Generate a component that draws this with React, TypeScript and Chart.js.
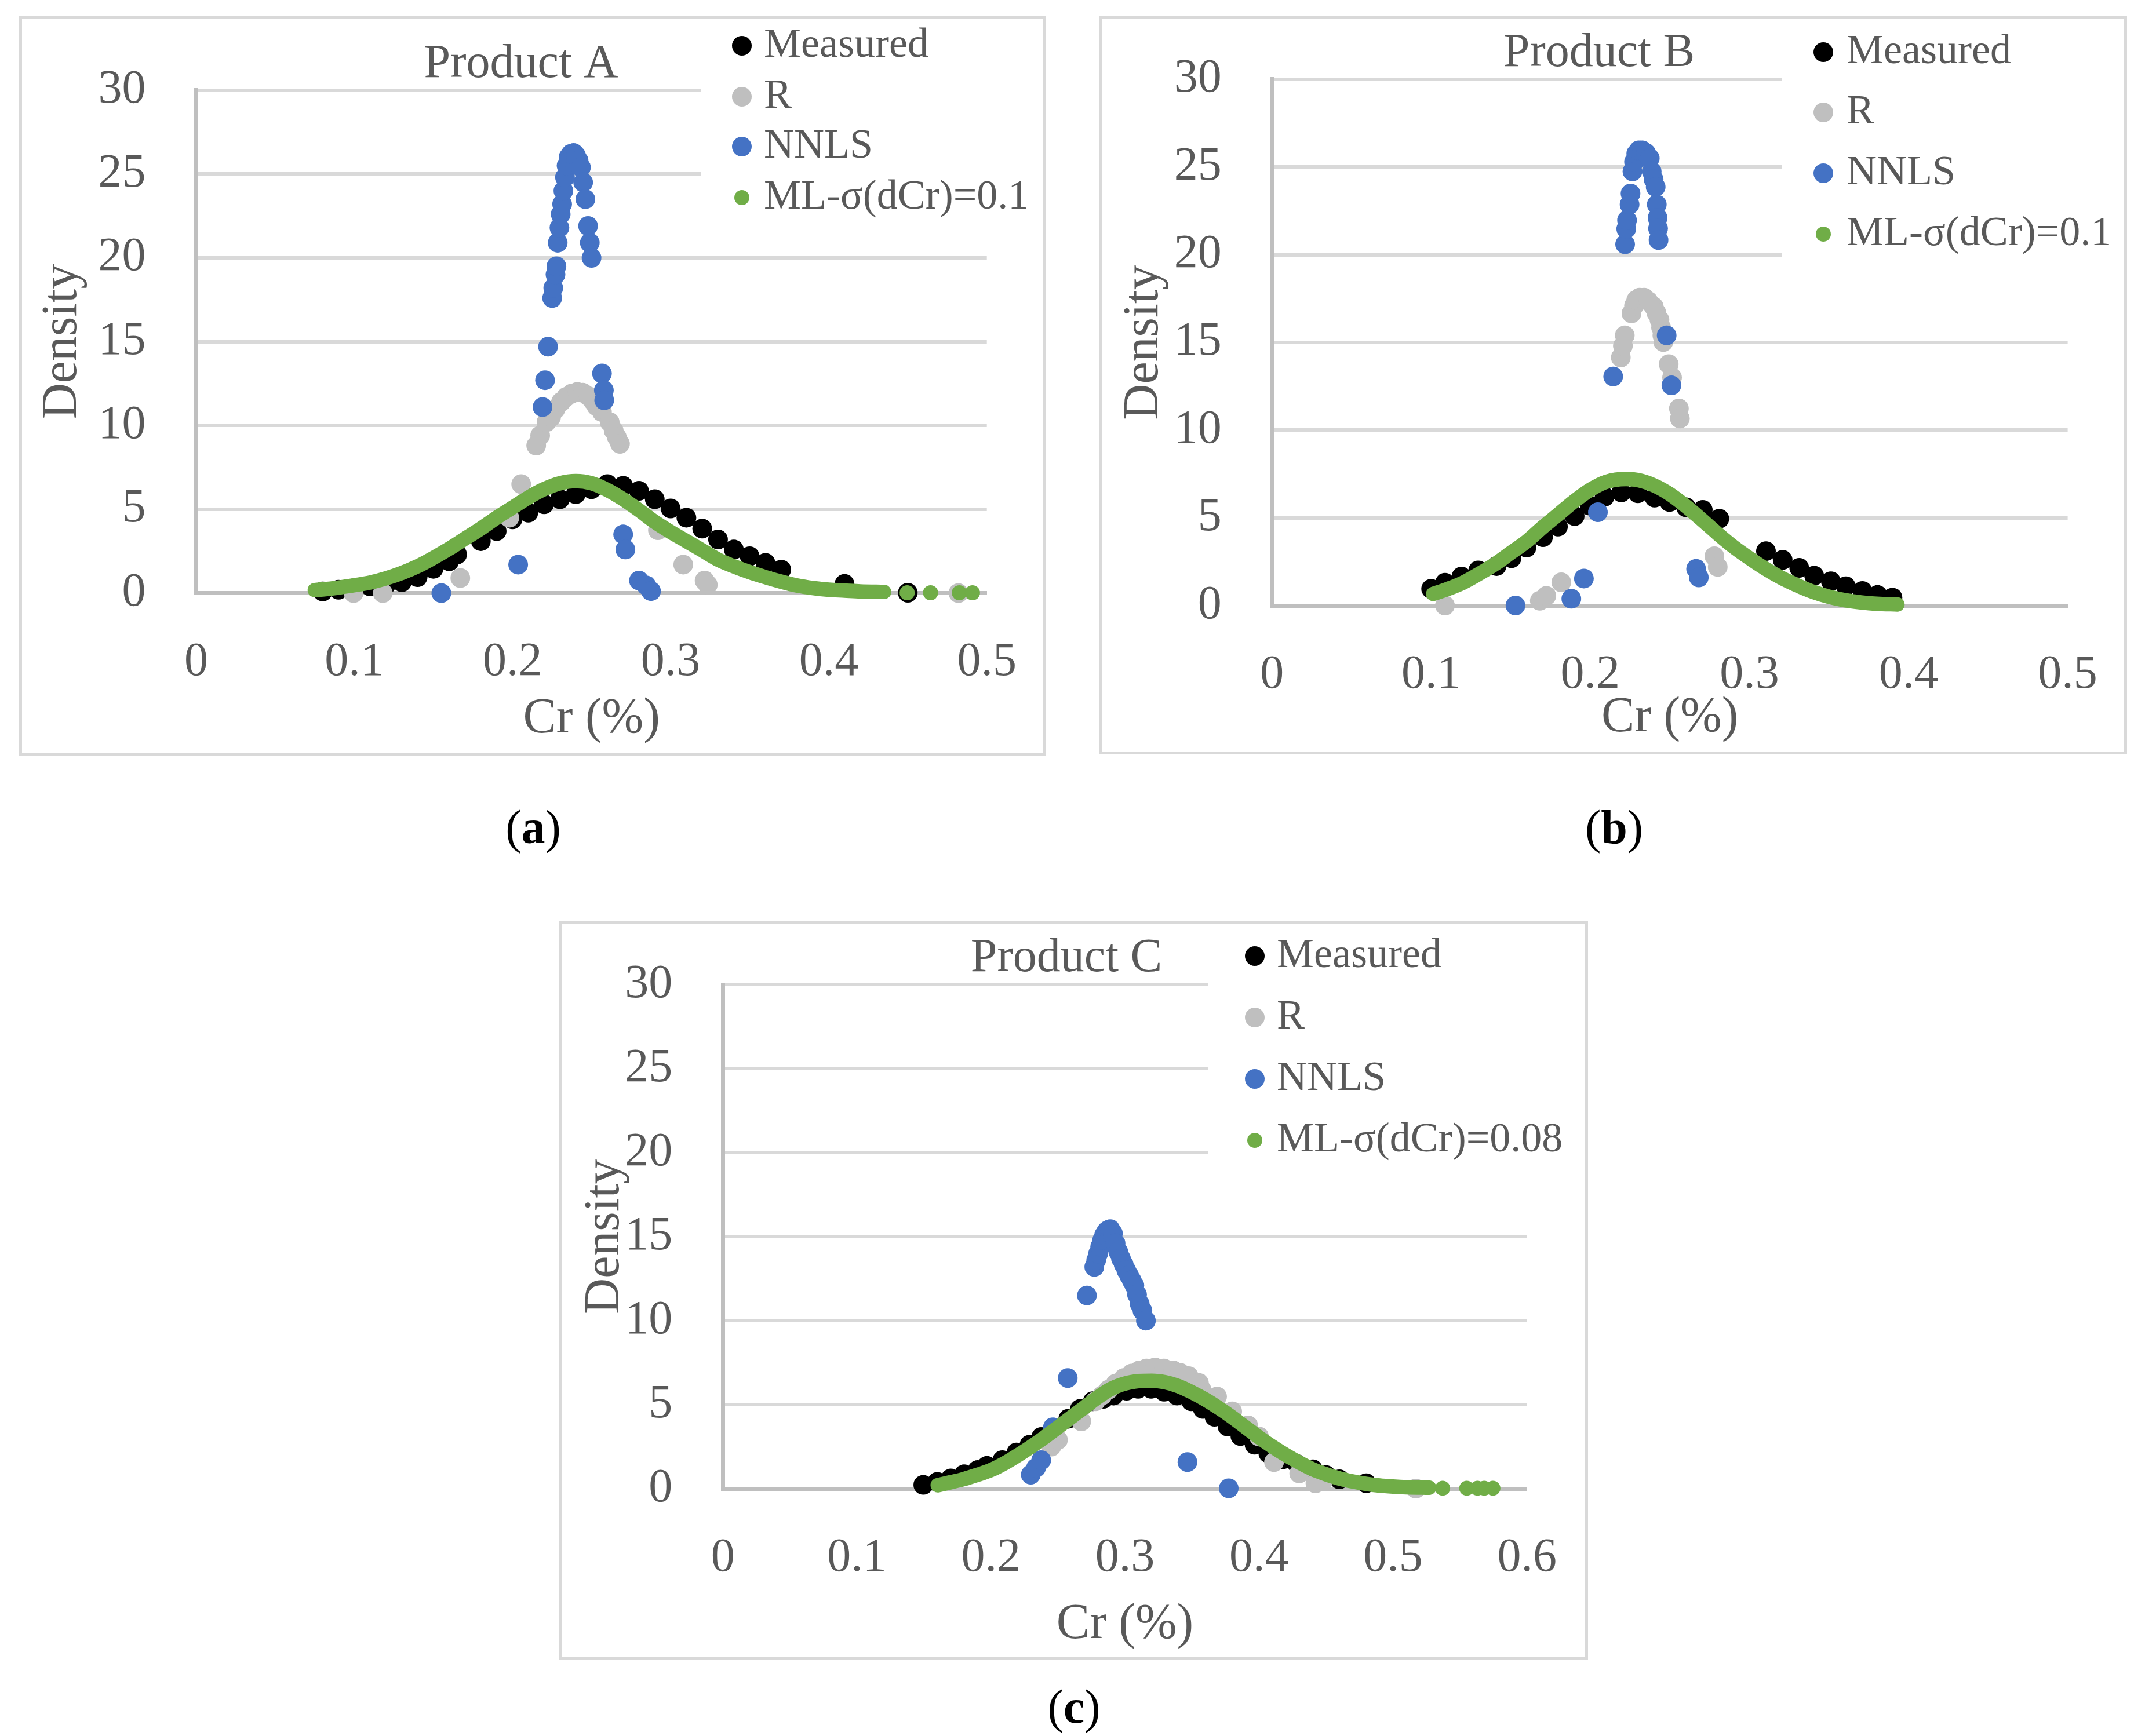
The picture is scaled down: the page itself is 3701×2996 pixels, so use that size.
import React, { useEffect, useRef } from "react";
import { Chart, registerables } from "chart.js";

Chart.register(...registerables);

// ---- Product A ----
const aMeasuredCr = [0.08, 0.09, 0.10, 0.11, 0.12, 0.13, 0.14, 0.15, 0.16, 0.165, 0.18, 0.19, 0.20, 0.21, 0.22, 0.23, 0.24, 0.25, 0.26, 0.27, 0.28, 0.29, 0.30, 0.31, 0.32, 0.33, 0.34, 0.35, 0.36, 0.37, 0.41, 0.45];
const aMeasuredDensity = [0.1, 0.2, 0.3, 0.4, 0.5, 0.65, 0.95, 1.45, 1.9, 2.3, 3.1, 3.7, 4.4, 4.8, 5.3, 5.6, 5.9, 6.2, 6.5, 6.4, 6.1, 5.6, 5.05, 4.5, 3.85, 3.2, 2.6, 2.2, 1.8, 1.4, 0.55, 0.02];
const aRCr = [0.0995, 0.118, 0.167, 0.198, 0.2055, 0.215, 0.2175, 0.2215, 0.2244, 0.227, 0.2307, 0.234, 0.2375, 0.241, 0.2445, 0.248, 0.251, 0.2531, 0.2566, 0.2615, 0.264, 0.266, 0.268, 0.292, 0.308, 0.3215, 0.3235, 0.482];
const aRDensity = [0.0, 0.0, 0.9, 4.5, 6.5, 8.8, 9.4, 10.2, 10.5, 10.95, 11.4, 11.7, 11.9, 12.0, 11.95, 11.75, 11.45, 11.15, 10.8, 10.2, 9.7, 9.3, 8.9, 3.75, 1.7, 0.75, 0.5, 0.0];
const aNnlsCr = [0.155, 0.2036, 0.219, 0.2206, 0.2225, 0.2251, 0.2258, 0.2272, 0.2278, 0.2286, 0.2297, 0.2305, 0.2314, 0.2322, 0.2332, 0.2342, 0.2355, 0.237, 0.2387, 0.2402, 0.2418, 0.2433, 0.2447, 0.2461, 0.2478, 0.2489, 0.25, 0.2566, 0.2578, 0.258, 0.27, 0.2714, 0.28, 0.2847, 0.2876];
const aNnlsDensity = [0.0, 1.7, 11.1, 12.7, 14.7, 17.6, 18.2, 19.0, 19.5, 20.9, 21.8, 22.6, 23.2, 24.0, 24.8, 25.5, 26.0, 26.2, 26.25, 26.1, 25.8, 25.4, 24.5, 23.5, 21.9, 20.9, 20.0, 13.1, 12.1, 11.5, 3.5, 2.6, 0.75, 0.45, 0.12];
const aMlCr = [0.075, 0.08, 0.09, 0.10, 0.11, 0.12, 0.13, 0.14, 0.15, 0.16, 0.17, 0.18, 0.19, 0.20, 0.21, 0.22, 0.23, 0.24, 0.25, 0.26, 0.27, 0.28, 0.29, 0.30, 0.31, 0.32, 0.33, 0.34, 0.35, 0.36, 0.37, 0.38, 0.39, 0.40, 0.41, 0.42, 0.435];
const aMlDensity = [0.18, 0.22, 0.33, 0.47, 0.63, 0.88, 1.2, 1.6, 2.1, 2.65, 3.25, 3.85, 4.5, 5.1, 5.7, 6.2, 6.55, 6.68, 6.55, 6.15, 5.6, 4.95, 4.25, 3.65, 3.1, 2.55, 2.0, 1.6, 1.25, 0.95, 0.68, 0.45, 0.3, 0.2, 0.15, 0.1, 0.07];
const aMlTailCr = [0.4496, 0.4644, 0.4826, 0.4909];
const aMlTailDensity = [0.02, 0.02, 0.02, 0.02];

// ---- Product B ----
const bMeasuredCr = [0.10, 0.1087, 0.1191, 0.1296, 0.1411, 0.1505, 0.1599, 0.1703, 0.1797, 0.1902, 0.1996, 0.209, 0.2195, 0.2299, 0.2404, 0.2498, 0.2602, 0.2707, 0.2811, 0.3104, 0.3209, 0.3313, 0.3407, 0.3512, 0.3606, 0.371, 0.3805, 0.3899];
const bMeasuredDensity = [0.95, 1.3, 1.65, 2.0, 2.25, 2.7, 3.3, 3.9, 4.5, 5.1, 5.7, 6.2, 6.45, 6.4, 6.15, 5.9, 5.6, 5.45, 4.95, 3.1, 2.6, 2.15, 1.7, 1.38, 1.1, 0.83, 0.6, 0.45];
const bRCr = [0.1087, 0.1683, 0.1724, 0.1818, 0.2192, 0.2205, 0.2217, 0.2259, 0.2275, 0.2289, 0.231, 0.2338, 0.2365, 0.2399, 0.2415, 0.2435, 0.2445, 0.2453, 0.2459, 0.2493, 0.2514, 0.2557, 0.2563, 0.278, 0.2801];
const bRDensity = [0.0, 0.27, 0.55, 1.32, 14.14, 14.8, 15.4, 16.66, 17.1, 17.42, 17.55, 17.55, 17.35, 17.04, 16.7, 16.29, 15.85, 15.4, 15.02, 13.76, 13.0, 11.23, 10.66, 2.81, 2.2];
const bNnlsCr = [0.153, 0.1881, 0.196, 0.2048, 0.2144, 0.2219, 0.2226, 0.2231, 0.2247, 0.2253, 0.2265, 0.2275, 0.2289, 0.2305, 0.2326, 0.235, 0.2374, 0.2386, 0.2398, 0.2411, 0.2418, 0.2423, 0.2426, 0.2429, 0.248, 0.251, 0.2665, 0.2682];
const bNnlsDensity = [0.0, 0.39, 1.54, 5.32, 13.06, 20.6, 21.47, 21.97, 22.86, 23.49, 24.75, 25.3, 25.77, 25.95, 25.95, 25.8, 25.5, 24.75, 24.3, 23.87, 22.86, 22.1, 21.5, 20.84, 15.4, 12.55, 2.09, 1.6];
const bMlCr = [0.1013, 0.11, 0.12, 0.13, 0.14, 0.15, 0.16, 0.17, 0.18, 0.19, 0.20, 0.21, 0.2226, 0.23, 0.24, 0.25, 0.26, 0.27, 0.28, 0.29, 0.30, 0.31, 0.32, 0.33, 0.34, 0.35, 0.36, 0.37, 0.38, 0.393];
const bMlDensity = [0.66, 0.93, 1.3, 1.8, 2.35, 3.0, 3.65, 4.45, 5.2, 5.95, 6.6, 7.05, 7.21, 7.15, 6.85, 6.35, 5.67, 4.9, 4.1, 3.35, 2.7, 2.1, 1.58, 1.15, 0.78, 0.5, 0.3, 0.18, 0.1, 0.06];
const bMlTailCr: number[] = [];
const bMlTailDensity: number[] = [];

// ---- Product C ----
const cMeasuredCr = [0.1495, 0.16, 0.17, 0.18, 0.19, 0.197, 0.2085, 0.219, 0.2288, 0.2375, 0.2471, 0.2577, 0.2664, 0.276, 0.284, 0.2915, 0.3012, 0.3098, 0.3195, 0.3292, 0.3388, 0.3494, 0.3581, 0.3668, 0.3765, 0.3861, 0.3967, 0.407, 0.418, 0.4286, 0.4402, 0.45, 0.46, 0.48];
const cMeasuredDensity = [0.22, 0.4, 0.6, 0.85, 1.1, 1.35, 1.69, 2.15, 2.61, 3.07, 3.59, 4.16, 4.74, 5.2, 5.35, 5.54, 5.83, 5.94, 5.94, 5.77, 5.54, 5.2, 4.74, 4.28, 3.7, 3.13, 2.61, 2.1, 1.75, 1.45, 1.15, 0.8, 0.55, 0.32];
const cRCr = [0.244, 0.2451, 0.25, 0.2674, 0.278, 0.283, 0.2877, 0.293, 0.2992, 0.305, 0.3108, 0.316, 0.3224, 0.329, 0.3359, 0.341, 0.3475, 0.3552, 0.3571, 0.3687, 0.38, 0.3919, 0.40, 0.4112, 0.43, 0.4421, 0.448, 0.517];
const cRDensity = [2.7, 2.5, 2.9, 4.0, 5.2, 5.55, 5.89, 6.25, 6.58, 6.85, 7.04, 7.15, 7.21, 7.15, 7.04, 6.9, 6.69, 6.29, 5.89, 5.48, 4.6, 3.76, 3.1, 1.58, 0.9, 0.31, 0.48, 0.0];
const cNnlsCr = [0.2297, 0.2336, 0.2375, 0.2462, 0.2573, 0.2716, 0.2771, 0.2785, 0.28, 0.2815, 0.283, 0.2845, 0.286, 0.2875, 0.289, 0.291, 0.293, 0.295, 0.297, 0.299, 0.301, 0.303, 0.305, 0.307, 0.309, 0.311, 0.313, 0.3156, 0.3466, 0.3774];
const cNnlsDensity = [0.83, 1.23, 1.69, 3.65, 6.58, 11.5, 13.2, 13.6, 14.0, 14.4, 14.8, 15.1, 15.3, 15.4, 15.45, 15.2, 14.6, 14.1, 13.7, 13.35, 13.0, 12.7, 12.4, 12.1, 11.55, 11.0, 10.6, 10.0, 1.58, 0.02];
const cMlCr = [0.1603, 0.17, 0.18, 0.19, 0.20, 0.21, 0.22, 0.23, 0.24, 0.25, 0.26, 0.27, 0.28, 0.29, 0.30, 0.31, 0.32, 0.33, 0.34, 0.35, 0.36, 0.37, 0.38, 0.39, 0.40, 0.41, 0.42, 0.43, 0.44, 0.45, 0.46, 0.47, 0.48, 0.49, 0.50, 0.51, 0.527];
const cMlDensity = [0.2, 0.38, 0.57, 0.82, 1.1, 1.5, 1.98, 2.5, 3.05, 3.65, 4.25, 4.85, 5.45, 5.95, 6.25, 6.4, 6.42, 6.33, 6.1, 5.73, 5.3, 4.8, 4.25, 3.65, 3.05, 2.5, 2.0, 1.55, 1.15, 0.85, 0.6, 0.42, 0.28, 0.18, 0.12, 0.08, 0.05];
const cMlTailCr = [0.537, 0.555, 0.563, 0.568, 0.5745];
const cMlTailDensity = [0.02, 0.02, 0.02, 0.02, 0.02];

// ---- axes ----
const crTicksAB = [0, 0.1, 0.2, 0.3, 0.4, 0.5];
const crTicksC = [0, 0.1, 0.2, 0.3, 0.4, 0.5, 0.6];
const densityTicks = [0, 5, 10, 15, 20, 25, 30];

const BLACK = "#000000";
const GRAY = "#bfbfbf";
const BLUE = "#4472c4";
const GREEN = "#70ad47";
const TEXT = "#595959";
const GRID = "#d9d9d9";
const AXIS = "#bfbfbf";
const FONT = "'Liberation Serif', 'Times New Roman', serif";
const DOT = 17;
const ML_DOT = 13;
const BORDER = 5;

const zip = (xs: number[], ys: number[]) => xs.map((x, i) => ({ x, y: ys[i] }));
const fmt = (v: number) => String(Math.round(v * 10) / 10);

interface PanelLayout {
  box: number[]; // left, top, right, bottom of the frame
  area: number[]; // left, top, right, bottom of the plot area
  densityX: number;
  xTitleY: number;
  titleAt: number[];
  markerX: number;
  textX: number;
  rows: number[];
  cover: number[]; // left, bottom of the legend's white box
  tagAt: number[];
}

interface PanelProps {
  title: string;
  tag: string;
  mlLabel: string;
  crTicks: number[];
  measured: { x: number; y: number }[];
  r: { x: number; y: number }[];
  nnls: { x: number; y: number }[];
  ml: { x: number; y: number }[];
  mlTail: { x: number; y: number }[];
  layout: PanelLayout;
}

const DensityPanel = (props: PanelProps) => {
  const canvasRef = useRef<HTMLCanvasElement | null>(null);
  const L = props.layout;
  const cl = L.box[0] + BORDER;
  const ct = L.box[1] + BORDER;
  const cw = L.box[2] - L.box[0] - 2 * BORDER;
  const ch = L.box[3] - L.box[1] - 2 * BORDER;

  useEffect(() => {
    const canvas = canvasRef.current;
    if (!canvas) return;

    const legendItems = [
      { label: "Measured", color: BLACK, r: DOT },
      { label: "R", color: GRAY, r: DOT },
      { label: "NNLS", color: BLUE, r: DOT },
      { label: props.mlLabel, color: GREEN, r: ML_DOT },
    ];

    // legend sits inside the plot on a white box, title floats above the plot
    const decor = {
      id: "panelDecor",
      afterDraw(chart: any) {
        const ctx = chart.ctx;
        ctx.save();
        const coverX = L.cover[0] - cl;
        ctx.fillStyle = "#ffffff";
        ctx.fillRect(coverX, 0, cw - coverX, L.cover[1] - ct);
        ctx.textBaseline = "middle";
        ctx.font = `72px ${FONT}`;
        legendItems.forEach((item, i) => {
          const y = L.rows[i] - ct;
          ctx.fillStyle = item.color;
          ctx.beginPath();
          ctx.arc(L.markerX - cl, y, item.r, 0, Math.PI * 2);
          ctx.fill();
          ctx.fillStyle = TEXT;
          ctx.textAlign = "left";
          ctx.fillText(item.label, L.textX - cl, y);
        });
        ctx.font = `82px ${FONT}`;
        ctx.textAlign = "center";
        ctx.fillStyle = TEXT;
        ctx.fillText(props.title, L.titleAt[0] - cl, L.titleAt[1] - ct);
        ctx.restore();
      },
    };

    const dots = (data: any[], color: string, order: number, radius: number) => ({
      data,
      backgroundColor: color,
      pointBackgroundColor: color,
      pointRadius: radius,
      pointBorderWidth: 0,
      order,
      clip: false,
    });

    const chart = new Chart(canvas, {
      type: "scatter",
      data: {
        datasets: [
          { label: "Measured", ...dots(props.measured, BLACK, 4, DOT) },
          { label: "R", ...dots(props.r, GRAY, 3, DOT) },
          { label: "NNLS", ...dots(props.nnls, BLUE, 2, DOT) },
          {
            label: props.mlLabel,
            data: props.ml,
            showLine: true,
            borderColor: GREEN,
            borderWidth: 25,
            borderCapStyle: "round",
            borderJoinStyle: "round",
            cubicInterpolationMode: "monotone",
            pointRadius: 0,
            order: 1,
            clip: false,
          },
          { label: props.mlLabel, ...dots(props.mlTail, GREEN, 1, ML_DOT) },
        ],
      } as any,
      options: {
        responsive: false,
        animation: false,
        events: [],
        layout: {
          padding: { left: 0, top: L.area[1] - ct, right: cl + cw - L.area[2], bottom: 0 },
        },
        plugins: {
          legend: { display: false },
          tooltip: { enabled: false },
          title: { display: false },
        },
        scales: {
          x: {
            type: "linear",
            min: 0,
            max: props.crTicks[props.crTicks.length - 1],
            afterBuildTicks: (s: any) => {
              s.ticks = props.crTicks.map((v) => ({ value: v }));
            },
            afterFit: (s: any) => {
              s.height = ct + ch - L.area[3];
              s.paddingLeft = 0;
              s.paddingRight = 0;
            },
            ticks: {
              padding: 79,
              maxRotation: 0,
              autoSkip: false,
              color: TEXT,
              font: { family: FONT, size: 82, lineHeight: 1 },
              callback: (v: any) => fmt(Number(v)),
            },
            grid: { display: false, drawTicks: false },
            border: { display: true, color: AXIS, width: 7 },
            title: {
              display: true,
              text: "Cr (%)",
              color: TEXT,
              font: { family: FONT, size: 86, lineHeight: 1 },
              padding: { top: 0, bottom: ct + ch - L.xTitleY - 43 },
            },
          },
          y: {
            type: "linear",
            min: 0,
            max: 30,
            afterBuildTicks: (s: any) => {
              s.ticks = densityTicks.map((v) => ({ value: v }));
            },
            afterFit: (s: any) => {
              s.width = L.area[0] - cl;
              s.paddingTop = 0;
              s.paddingBottom = 0;
            },
            ticks: {
              padding: 87,
              color: TEXT,
              font: { family: FONT, size: 82, lineHeight: 1 },
              callback: (v: any) => fmt(Number(v)),
            },
            grid: {
              drawTicks: false,
              lineWidth: 6,
              color: (c: any) => (c.tick && c.tick.value === 0 ? "rgba(0,0,0,0)" : GRID),
            },
            border: { display: true, color: AXIS, width: 7 },
            title: {
              display: true,
              text: "Density",
              color: TEXT,
              font: { family: FONT, size: 86, lineHeight: 1 },
              padding: { top: L.densityX - cl - 43, bottom: 0 },
            },
          },
        },
      } as any,
      plugins: [decor as any],
    });

    return () => {
      chart.destroy();
    };
  }, []);

  return (
    <>
      <div
        style={{
          position: "absolute",
          left: L.box[0],
          top: L.box[1],
          width: L.box[2] - L.box[0],
          height: L.box[3] - L.box[1],
          border: `${BORDER}px solid ${GRID}`,
          boxSizing: "border-box",
          background: "#ffffff",
        }}
      >
        <canvas
          ref={canvasRef}
          width={cw}
          height={ch}
          style={{ position: "absolute", left: 0, top: 0, width: cw, height: ch }}
        />
      </div>
      <div
        style={{
          position: "absolute",
          left: L.tagAt[0] - 200,
          top: L.tagAt[1] - 41,
          width: 400,
          textAlign: "center",
          fontFamily: FONT,
          fontSize: 82,
          lineHeight: 1,
          color: "#000000",
        }}
      >
        (<b>{props.tag}</b>)
      </div>
    </>
  );
};

const layoutA: PanelLayout = {
  box: [33, 28, 1805, 1304],
  area: [338.6, 155.6, 1702.7, 1023.6],
  densityX: 108.5,
  xTitleY: 1241,
  titleAt: [899, 111],
  markerX: 1280,
  textX: 1318,
  rows: [79, 167, 253, 341],
  cover: [1210, 400],
  tagAt: [920, 1428],
};

const layoutB: PanelLayout = {
  box: [1897, 28, 3670, 1302],
  area: [2194.7, 136.9, 3567.6, 1045],
  densityX: 1974,
  xTitleY: 1239,
  titleAt: [2759, 92.5],
  markerX: 3146,
  textX: 3186,
  rows: [90, 194, 299, 404],
  cover: [3075, 470],
  tagAt: [2785, 1428],
};

const layoutC: PanelLayout = {
  box: [964, 1589, 2740, 2864],
  area: [1247.3, 1699.4, 2634.8, 2569],
  densityX: 1044,
  xTitleY: 2804,
  titleAt: [1840, 1654],
  markerX: 2165,
  textX: 2203,
  rows: [1650, 1756, 1862, 1968],
  cover: [2085, 2010],
  tagAt: [1853, 2946],
};

const App = () => {
  return (
    <div
      style={{
        position: "absolute",
        left: 0,
        top: 0,
        width: 3701,
        height: 2996,
        background: "#ffffff",
        overflow: "hidden",
      }}
    >
      <DensityPanel
        title="Product A"
        tag="a"
        mlLabel="ML-σ(dCr)=0.1"
        crTicks={crTicksAB}
        measured={zip(aMeasuredCr, aMeasuredDensity)}
        r={zip(aRCr, aRDensity)}
        nnls={zip(aNnlsCr, aNnlsDensity)}
        ml={zip(aMlCr, aMlDensity)}
        mlTail={zip(aMlTailCr, aMlTailDensity)}
        layout={layoutA}
      />
      <DensityPanel
        title="Product B"
        tag="b"
        mlLabel="ML-σ(dCr)=0.1"
        crTicks={crTicksAB}
        measured={zip(bMeasuredCr, bMeasuredDensity)}
        r={zip(bRCr, bRDensity)}
        nnls={zip(bNnlsCr, bNnlsDensity)}
        ml={zip(bMlCr, bMlDensity)}
        mlTail={zip(bMlTailCr, bMlTailDensity)}
        layout={layoutB}
      />
      <DensityPanel
        title="Product C"
        tag="c"
        mlLabel="ML-σ(dCr)=0.08"
        crTicks={crTicksC}
        measured={zip(cMeasuredCr, cMeasuredDensity)}
        r={zip(cRCr, cRDensity)}
        nnls={zip(cNnlsCr, cNnlsDensity)}
        ml={zip(cMlCr, cMlDensity)}
        mlTail={zip(cMlTailCr, cMlTailDensity)}
        layout={layoutC}
      />
    </div>
  );
};

export default App;
